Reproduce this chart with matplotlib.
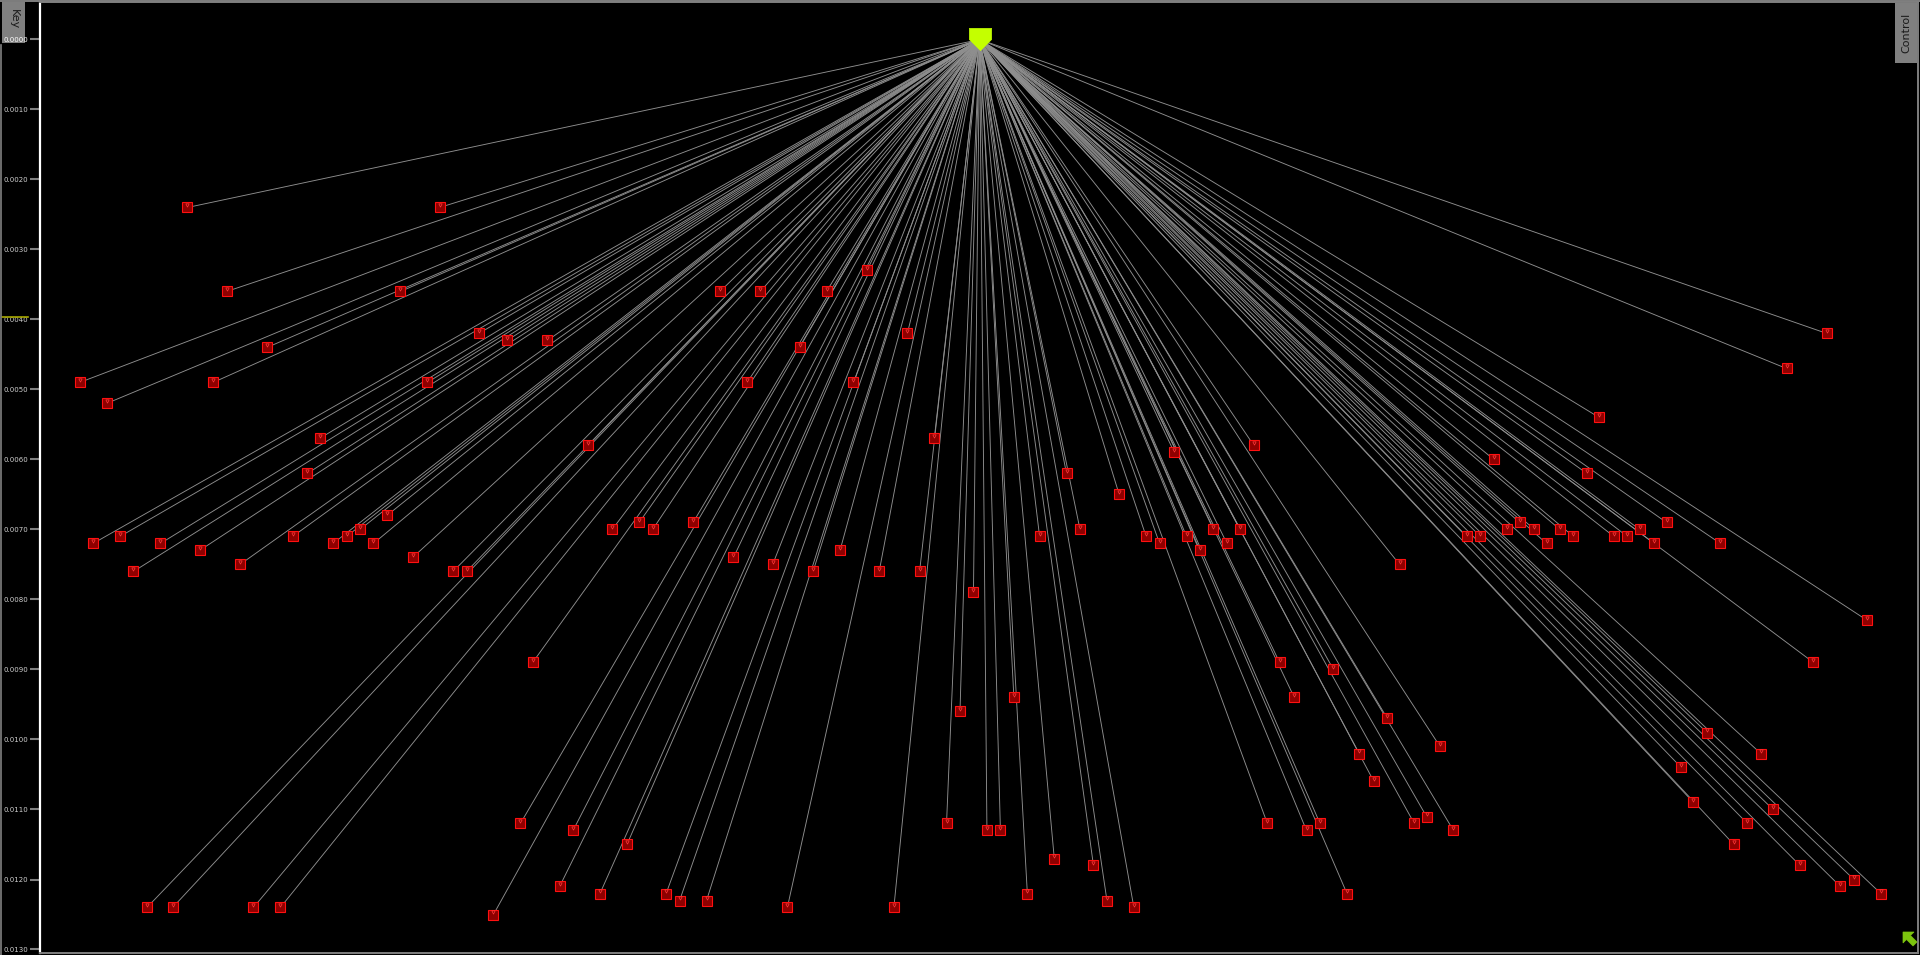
import matplotlib
matplotlib.use('Agg')
import matplotlib.pyplot as plt
import matplotlib.transforms as mtransforms
from matplotlib.path import Path
from matplotlib.patches import Rectangle, Polygon
from matplotlib.lines import Line2D

# ---------------- data ----------------
root_x = 800
root_dist = 0.0

leaf_x = [153, 359, 185, 327, 218, 65, 174, 349, 87, 391, 414, 447, 261, 251, 480,
          76, 98, 109, 131, 163, 196, 239, 272, 283, 294, 305, 316, 337, 370, 381,
          588, 621, 675, 708, 741, 653, 610, 697, 763, 500, 522, 533, 566, 599, 631,
          664, 686, 718, 751, 795, 435,
          959, 1024, 871, 914, 849, 882, 936, 947, 969, 980, 991, 1002, 1013, 1143,
          1492, 1459, 1306, 1220, 1296, 1198, 1209, 1231, 1241, 1253, 1263, 1274, 1285,
          1318, 1329, 1339, 1351, 1361, 1405, 1525, 1481,
          1045, 1089, 1057, 828, 784, 1133, 1176, 1110, 1122, 1394, 1438, 1373, 1383,
          1448, 1427, 1416, 1470, 1503, 1514, 1536,
          425, 468, 512, 457, 490, 544, 555, 577, 643, 730, 120, 141, 207, 229, 403,
          773, 806, 817, 861, 839, 893, 904, 926, 1035, 1067, 1078, 1100, 1155, 1165, 1187]

leaf_dist = [0.0024, 0.0024, 0.0036, 0.0036, 0.0044, 0.0049, 0.0049, 0.0049, 0.0052, 0.0042,
             0.0043, 0.0043, 0.0057, 0.0062, 0.0058,
             0.0072, 0.0071, 0.0076, 0.0072, 0.0073, 0.0075, 0.0071, 0.0072, 0.0071, 0.0070,
             0.0072, 0.0068, 0.0074, 0.0076, 0.0076,
             0.0036, 0.0036, 0.0036, 0.0033, 0.0042, 0.0044, 0.0049, 0.0049, 0.0057, 0.0070,
             0.0069, 0.0070, 0.0069, 0.0074, 0.0075, 0.0076, 0.0073, 0.0076, 0.0076, 0.0079,
             0.0089,
             0.0059, 0.0058, 0.0062, 0.0065, 0.0071, 0.0070, 0.0071, 0.0072, 0.0071, 0.0073,
             0.0070, 0.0072, 0.0070, 0.0075,
             0.0042, 0.0047, 0.0054, 0.0060, 0.0062, 0.0071, 0.0071, 0.0070, 0.0069, 0.0070,
             0.0072, 0.0070, 0.0071, 0.0071, 0.0071, 0.0070, 0.0072, 0.0069, 0.0072, 0.0083,
             0.0089,
             0.0089, 0.0090, 0.0094, 0.0094, 0.0096, 0.0097, 0.0101, 0.0102, 0.0106, 0.0099,
             0.0102, 0.0104, 0.0109, 0.0110, 0.0112, 0.0115, 0.0118, 0.0121, 0.0120, 0.0122,
             0.0112, 0.0113, 0.0115, 0.0121, 0.0122, 0.0122, 0.0123, 0.0123, 0.0124, 0.0124,
             0.0124, 0.0124, 0.0124, 0.0124, 0.0125,
             0.0112, 0.0113, 0.0113, 0.0117, 0.0122, 0.0118, 0.0123, 0.0124, 0.0112, 0.0113,
             0.0112, 0.0122, 0.0112, 0.0111, 0.0113]

y_ticks = [0.000, 0.001, 0.002, 0.003, 0.004, 0.005, 0.006, 0.007,
           0.008, 0.009, 0.010, 0.011, 0.012, 0.013]
y_tick_labels = ['0.0000', '0.0010', '0.0020', '0.0030', '0.0040', '0.0050', '0.0060',
                 '0.0070', '0.0080', '0.0090', '0.0100', '0.0110', '0.0120', '0.0130']
highlight_tick = 0.004

# ---------------- figure ----------------
W, H = 1920, 955
fig = plt.figure(figsize=(W / 100, H / 100), dpi=100, facecolor='black')

ax_l, ax_r, ax_t, ax_b = 40, 1918, 2, 953
ax = fig.add_axes([ax_l / W, 1 - ax_b / H, (ax_r - ax_l) / W, (ax_b - ax_t) / H])
ax.set_facecolor('black')

scale = 1920 / 1568
ax.set_xlim(ax_l / scale, ax_r / scale)
px_per_unit = 70000.0
y0_pix = 39.5
ax.set_ylim((ax_b - y0_pix) / px_per_unit, (ax_t - y0_pix) / px_per_unit)

# branches
for x, d in zip(leaf_x, leaf_dist):
    ax.plot([root_x, x], [root_dist, d], color='#8f8f8f', lw=0.65, zorder=2,
            solid_capstyle='butt')

# leaves
ax.plot(leaf_x, leaf_dist, linestyle='none', marker='s', markersize=7.5,
        markerfacecolor='#8e0000', markeredgecolor='#ff1010', markeredgewidth=0.8,
        zorder=4)
glyph_tr = ax.transData + mtransforms.ScaledTranslation(0, 1.5 / 72, fig.dpi_scale_trans)
ax.plot(leaf_x, leaf_dist, linestyle='none', marker='v', markersize=2.4,
        markerfacecolor='none', markeredgecolor='#ff3a3a', markeredgewidth=0.5,
        transform=glyph_tr, zorder=5)

# root marker (shield)
shield = Path([(-1, 1), (1, 1), (1, 0), (0, -1), (-1, 0), (-1, 1)],
              [Path.MOVETO, Path.LINETO, Path.LINETO, Path.LINETO, Path.LINETO, Path.CLOSEPOLY])
ax.plot([root_x], [root_dist], linestyle='none', marker=shield, markersize=16,
        markerfacecolor='#c4ff00', markeredgecolor='#c4ff00', markeredgewidth=0.5, zorder=6)

# axes styling
ax.set_xticks([])
ax.set_yticks(y_ticks, y_tick_labels)
ax.tick_params(axis='y', direction='out', length=7.2, width=1.5, color='#808080',
               labelcolor='#cfcfcf', labelsize=5, pad=1.5)
ax.get_yticklabels()[0].set_color('white')
for side in ['top', 'right', 'bottom']:
    ax.spines[side].set_color('#808080')
    ax.spines[side].set_linewidth(1.4)
ax.spines['left'].set_color('white')
ax.spines['left'].set_linewidth(1.6)

# Key box
fig.add_artist(Rectangle((2 / W, 1 - 43 / H), 23 / W, 41 / H, transform=fig.transFigure,
                         facecolor='#808080', edgecolor='none', zorder=0))
fig.text(13.5 / W, 1 - 19 / H, 'Key', rotation=270, ha='center', va='center',
         fontsize=8, color='#1a1a1a')
# Control box
fig.add_artist(Rectangle((1895 / W, 1 - 63 / H), 22 / W, 60 / H, transform=fig.transFigure,
                         facecolor='#808080', edgecolor='none', zorder=3))
fig.text(1906 / W, 1 - 33 / H, 'Control', rotation=90, ha='center', va='center',
         fontsize=8, color='#1a1a1a', zorder=4)

# highlighted tick marker line
yh = y0_pix + highlight_tick * px_per_unit - 2.5
fig.add_artist(Line2D([2 / W, 28 / W], [1 - yh / H, 1 - yh / H], transform=fig.transFigure,
                      color='#a8a800', lw=1.2))

# outer frame lines
fig.add_artist(Line2D([0.5 / W, 0.5 / W], [0, 1 - 45 / H], transform=fig.transFigure,
                      color='#808080', lw=1.2))
fig.add_artist(Line2D([0, 1], [1 - 0.8 / H, 1 - 0.8 / H], transform=fig.transFigure,
                      color='#808080', lw=1.4))

# corner arrow (bottom-right, pointing up-left), drawn as a polygon in figure pixels
arr_pts = [(1903, 23), (1903, 12), (1906.5, 15.5), (1913, 9), (1917, 13),
           (1910.5, 19.5), (1914, 23)]
fig.add_artist(Polygon([(px / W, py / H) for px, py in arr_pts], closed=True,
                       transform=fig.transFigure, facecolor='#7cc40e',
                       edgecolor='#7cc40e', lw=0.5, zorder=10))

fig.savefig('out.png', dpi=100, facecolor='black')
